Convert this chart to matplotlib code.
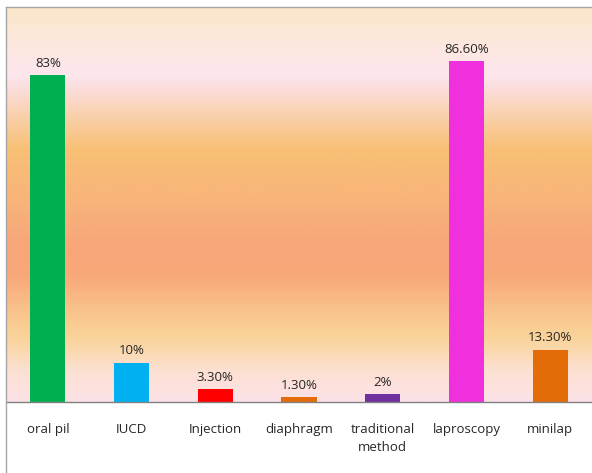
import numpy as np
import matplotlib
matplotlib.use("Agg")
import matplotlib.pyplot as plt
from matplotlib.colors import LinearSegmentedColormap
from matplotlib.lines import Line2D

categories = ["oral pil", "IUCD", "Injection", "diaphragm", "traditional\nmethod",
              "laproscopy", "minilap"]
values = [83, 10, 3.3, 1.3, 2, 86.6, 13.3]
labels = ["83%", "10%", "3.30%", "1.30%", "2%", "86.60%", "13.30%"]
colors = ["#00B050", "#00B0F0", "#FF0000", "#E36C09", "#7030A0", "#F030DC", "#E36C09"]

plt.rcParams["font.family"] = ["Open Sans", "DejaVu Sans"]

W, H = 592, 473
fig = plt.figure(figsize=(W / 100, H / 100), dpi=100)
ax = fig.add_axes([6 / W, (H - 402) / H, 1 - 6 / W, (402 - 8) / H])

# background gradient, top to bottom
stops = [(0.00, "#FAE6C8"), (0.08, "#FCE8DC"), (0.17, "#FDE6EE"), (0.21, "#FBDCD8"),
         (0.26, "#FAD3B5"), (0.36, "#F8C075"), (0.49, "#F8B47A"), (0.61, "#F7A67A"),
         (0.68, "#F8A878"), (0.79, "#F9C890"), (0.84, "#FAD49A"), (0.92, "#FCE0D0"),
         (1.00, "#FDE2E8")]
cmap = LinearSegmentedColormap.from_list("bg", stops)
grad = np.linspace(0, 1, 400).reshape(-1, 1)
ax.imshow(grad, aspect="auto", cmap=cmap, extent=(-0.5, 6.5, 0, 100),
          origin="upper", zorder=0)

x = np.arange(len(categories))
bars = ax.bar(x, values, width=0.42, color=colors, zorder=2)
for b, lab in zip(bars, labels):
    ax.text(b.get_x() + b.get_width() / 2, b.get_height() + 1.3, lab,
            ha="center", va="bottom", fontsize=9.5, color="#262626")

ax.set_xlim(-0.5, 6.5)
ax.set_ylim(0, 100)
ax.set_yticks([])
ax.set_xticks(x)
ax.set_xticklabels(categories, fontsize=9.5, color="#262626", linespacing=1.5)
ax.tick_params(axis="x", length=0, pad=15)
for s in ["top", "right", "left"]:
    ax.spines[s].set_visible(False)
ax.spines["bottom"].set_color("#808080")
ax.spines["bottom"].set_linewidth(1)

# chart area border
fig.add_artist(Line2D([6 / W, 6 / W], [0, (H - 7) / H], transform=fig.transFigure,
                      color="#A6A6A6", lw=1))
fig.add_artist(Line2D([6 / W, 1], [(H - 7) / H, (H - 7) / H], transform=fig.transFigure,
                      color="#A6A6A6", lw=1))

fig.savefig("out.png", dpi=100)
